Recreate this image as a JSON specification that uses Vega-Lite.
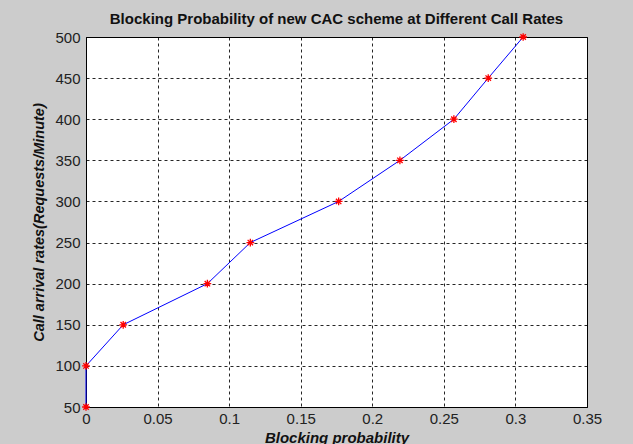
{
  "$schema": "https://vega.github.io/schema/vega-lite/v6.json",
  "autosize": "none",
  "width": 501,
  "height": 370,
  "padding": {"left": 86, "top": 37, "right": 46, "bottom": 37},
  "background": "#cccccc",
  "title": {
    "text": "Blocking Probability of new CAC scheme at Different Call Rates",
    "font": "Liberation Sans",
    "fontSize": 15,
    "fontWeight": "bold",
    "color": "#111111",
    "anchor": "middle",
    "offset": 3
  },
  "config": {
    "view": {"stroke": "#000000", "strokeWidth": 1, "fill": "#ffffff"},
    "axis": {
      "labelFont": "Liberation Sans",
      "labelFontSize": 15,
      "labelColor": "#222222",
      "titleFont": "Liberation Sans",
      "titleFontSize": 14.5,
      "titleFontWeight": "bold",
      "titleFontStyle": "italic",
      "titleColor": "#111111",
      "domainColor": "#000000",
      "ticks": false,
      "grid": true,
      "gridColor": "#000000",
      "gridDash": [3, 3],
      "gridWidth": 1,
      "gridOpacity": 0.85
    }
  },
  "data": {
    "values": [
      {"p": 0, "rate": 50},
      {"p": 0, "rate": 100},
      {"p": 0.026, "rate": 150},
      {"p": 0.0848, "rate": 200},
      {"p": 0.1148, "rate": 250},
      {"p": 0.1765, "rate": 300},
      {"p": 0.2193, "rate": 350},
      {"p": 0.257, "rate": 400},
      {"p": 0.281, "rate": 450},
      {"p": 0.3054, "rate": 500}
    ]
  },
  "encoding": {
    "x": {
      "field": "p",
      "type": "quantitative",
      "scale": {"domain": [0, 0.35], "nice": false, "zero": false},
      "axis": {
        "title": "Blocking probability",
        "titleFontSize": 15,
        "values": [0, 0.05, 0.1, 0.15, 0.2, 0.25, 0.3, 0.35],
        "format": "~g",
        "labelPadding": 4,
        "titlePadding": 4,
        "labelFlush": false
      }
    },
    "y": {
      "field": "rate",
      "type": "quantitative",
      "scale": {"domain": [50, 500], "nice": false, "zero": false},
      "axis": {
        "title": "Call arrival rates(Requests/Minute)",
        "values": [50, 100, 150, 200, 250, 300, 350, 400, 450, 500],
        "format": "d",
        "labelPadding": 6,
        "titlePadding": 8,
        "labelFlush": false
      }
    }
  },
  "layer": [
    {"mark": {"type": "line", "color": "#0000ff", "strokeWidth": 1, "clip": false}},
    {
      "mark": {
        "type": "point",
        "shape": "M-1,0L1,0M0,-1L0,1M-0.7,-0.7L0.7,0.7M-0.7,0.7L0.7,-0.7",
        "filled": false,
        "stroke": "#ff0000",
        "strokeWidth": 1.3,
        "size": 60,
        "opacity": 1,
        "clip": false
      }
    }
  ]
}
